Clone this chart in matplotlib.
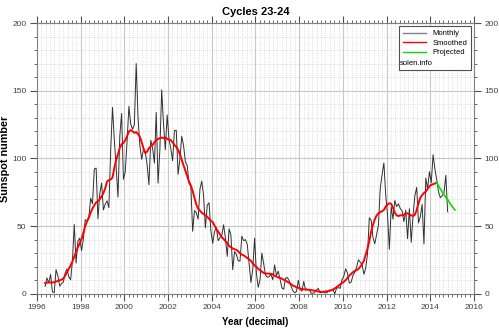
import numpy as np
import matplotlib.pyplot as plt
from matplotlib.lines import Line2D
from matplotlib.ticker import MultipleLocator

plt.rcParams['font.family'] = ['Liberation Sans', 'DejaVu Sans']

# monthly sunspot numbers, May 1996 .. Oct 2014
monthly_start = 1996 + 4.5 / 12
monthly = [
    5.5, 11.8, 8.2, 14.4, 1.6, 0.9, 17.9, 13.3,
    5.7, 7.6, 8.7, 15.5, 18.5, 12.7, 10.4, 24.4, 51.3, 22.8, 39.0, 41.2,
    31.9, 40.3, 54.8, 53.4, 56.3, 70.7, 66.6, 92.2, 92.9, 55.5, 74.0, 81.9,
    62.0, 66.3, 68.8, 63.7, 106.4, 137.7, 113.5, 93.7, 71.5, 116.7, 133.2, 84.6,
    90.1, 112.9, 138.5, 125.5, 121.6, 124.9, 170.1, 130.5, 109.7, 99.4, 106.8, 104.4,
    95.6, 80.6, 113.5, 107.7, 96.6, 134.0, 81.8, 106.4, 150.7, 125.5, 106.5, 132.2,
    114.1, 107.4, 98.4, 120.7, 120.8, 88.3, 99.6, 116.4, 109.6, 97.5, 95.0, 81.6,
    79.5, 46.2, 61.5, 60.0, 55.2, 77.4, 83.3, 72.7, 48.7, 65.5, 67.3, 46.5,
    37.3, 45.8, 49.1, 39.3, 41.5, 43.2, 51.1, 40.9, 27.7, 48.0, 43.5, 17.9,
    31.3, 29.2, 24.5, 24.2, 42.7, 39.3, 40.1, 36.4, 22.1, 8.5, 18.0, 41.2,
    15.3, 4.9, 10.6, 30.2, 22.3, 13.9, 12.2, 12.9, 14.4, 10.5, 21.4, 13.6,
    16.8, 10.7, 4.5, 3.4, 11.7, 12.1, 9.7, 6.0, 2.4, 0.9, 1.7, 10.1,
    3.3, 2.1, 9.3, 2.9, 3.2, 3.4, 0.5, 0.5, 1.1, 2.9, 4.1, 0.8,
    1.5, 1.4, 0.7, 1.2, 2.9, 2.6, 3.5, 0.0, 4.2, 4.6, 4.2, 10.6,
    13.1, 18.6, 15.4, 7.9, 8.8, 13.5, 16.1, 19.6, 25.2, 23.5, 21.6, 14.5,
    19.0, 29.4, 56.2, 54.4, 41.6, 37.0, 43.9, 50.6, 78.0, 88.0, 96.7, 73.0,
    58.3, 32.9, 64.3, 55.2, 69.0, 64.5, 66.5, 63.0, 61.4, 53.3, 61.8, 40.8,
    62.9, 38.1, 57.9, 72.4, 78.7, 52.5, 57.0, 66.0, 36.9, 85.6, 77.6, 90.3,
    82.0, 102.8, 92.2, 84.7, 75.2, 71.0, 72.4, 74.6, 87.6, 60.6,
]

# smoothed, May 1996 .. Apr 2014
smoothed_start = 1996 + 4.5 / 12
smoothed = [
    8.0, 8.4, 8.5, 8.4, 8.5, 8.6, 9.2, 9.5,
    10.0, 10.5, 11.3, 13.5, 16.0, 18.5, 21.0, 24.0, 27.5, 31.0, 34.5, 37.5,
    40.5, 45.0, 50.0, 53.5, 56.5, 60.0, 63.0, 65.5, 67.5, 68.5, 70.0, 72.0,
    74.5, 78.0, 83.0, 84.0, 84.5, 86.0, 93.0, 99.0, 103.0, 108.0, 110.5, 111.5,
    113.5, 116.5, 120.0, 121.0, 120.0, 119.0, 119.5, 118.0, 116.0, 112.0, 107.5, 104.0,
    105.0, 107.5, 109.0, 110.0, 112.0, 113.5, 114.5, 115.0, 115.5, 115.0, 115.5, 114.5,
    114.0, 113.5, 112.0, 110.0, 108.5, 106.5, 103.0, 99.0, 95.0, 91.0, 87.0, 83.0,
    80.0, 76.0, 71.0, 66.0, 63.0, 61.5, 60.0, 59.0, 58.0, 57.0, 55.5, 54.0,
    53.0, 50.5, 48.0, 46.0, 44.0, 42.0, 40.5, 39.0, 37.5, 35.5, 34.5, 33.5,
    33.0, 32.5, 31.5, 30.0, 29.0, 28.5, 27.5, 26.5, 25.5, 24.5, 22.5, 21.0,
    20.0, 18.5, 17.5, 16.5, 15.5, 15.0, 15.0, 15.0, 14.8, 14.5, 13.5, 12.8,
    12.2, 11.8, 11.2, 10.5, 9.8, 9.0, 8.2, 7.2, 6.2, 5.6, 5.0, 4.5,
    4.0, 3.6, 3.4, 3.3, 3.2, 3.0, 2.8, 2.6, 2.4, 2.1, 1.8, 1.6,
    1.5, 1.6, 1.8, 2.0, 2.3, 2.6, 3.2, 4.0, 5.0, 6.0, 7.0, 8.0,
    9.0, 10.2, 11.8, 13.5, 14.8, 16.0, 17.0, 17.5, 18.5, 20.0, 22.0, 24.5,
    29.0, 33.5, 39.0, 46.0, 51.0, 55.0, 58.0, 59.5, 60.5, 61.0, 62.0, 64.5,
    66.0, 67.0, 66.5, 63.5, 60.0, 58.0, 57.5, 58.0, 58.0, 58.5, 59.5, 59.5,
    58.5, 58.0, 57.5, 58.5, 62.0, 67.0, 71.0, 73.0, 74.5, 75.5, 77.5, 79.5,
    80.5, 81.0, 81.5, 82.0,
]

# projection, Apr 2014 .. Feb 2015
projected_start = 2014 + 3.5 / 12
projected = [82.0, 79.8, 77.6, 75.4, 73.3, 71.2, 69.6, 67.5, 65.5, 63.7, 62.0]

t_monthly = monthly_start + np.arange(len(monthly)) / 12
t_smoothed = smoothed_start + np.arange(len(smoothed)) / 12
t_projected = projected_start + np.arange(len(projected)) / 12

fig = plt.figure(figsize=(4.99, 3.34), dpi=100)
ax = fig.add_axes([0.074, 0.120, 0.876, 0.811])

ax.plot(t_monthly, monthly, color='#303030', lw=0.7)
ax.plot(t_smoothed, smoothed, color='#ff0000', lw=1.4)
ax.plot(t_projected, projected, color='#00e000', lw=1.2)

ax.set_xlim(1996, 2016)
ax.set_ylim(0, 200)
ax.xaxis.set_major_locator(MultipleLocator(2))
ax.xaxis.set_minor_locator(MultipleLocator(0.2))
ax.yaxis.set_major_locator(MultipleLocator(50))
ax.yaxis.set_minor_locator(MultipleLocator(10))

ax.grid(which='major', color='#c8c8c8', lw=0.8)
ax.grid(which='minor', color='#d4d4d4', lw=0.6, ls=':')
ax.set_axisbelow(True)

ax.tick_params(which='both', top=True, right=True, labelright=True,
               direction='out', color='#505050', labelsize=6, labelcolor='#404040')
ax.tick_params(which='major', length=5, width=0.8, pad=2.5)
ax.tick_params(which='minor', length=2, width=0.6)
for s in ax.spines.values():
    s.set_color('#808080')

ax.set_title('Cycles 23-24', fontsize=8, fontweight='bold', pad=6)
ax.set_xlabel('Year (decimal)', fontsize=7, fontweight='bold', labelpad=4)
ax.set_ylabel('Sunspot number', fontsize=7.8, fontweight='bold')
ax.yaxis.set_label_coords(-0.062, 0.5)

handles = [Line2D([], [], color='#808080', lw=1),
           Line2D([], [], color='#ff0000', lw=1),
           Line2D([], [], color='#00e000', lw=1),
           Line2D([], [], color='none')]
leg = ax.legend(handles, ['Monthly', 'Smoothed', 'Projected', ' '],
                loc='upper right', bbox_to_anchor=(0.993, 0.989), borderaxespad=0,
                fontsize=5.5, handlelength=3.0, handletextpad=0.85, labelspacing=0.3,
                borderpad=0.5, fancybox=False, framealpha=1, edgecolor='#505050')
leg.get_frame().set_linewidth(0.8)
ax.text(0.831, 0.850, 'solen.info', transform=ax.transAxes, fontsize=5.5,
        va='center', ha='left', zorder=10)

fig.savefig('out.png', dpi=100)
